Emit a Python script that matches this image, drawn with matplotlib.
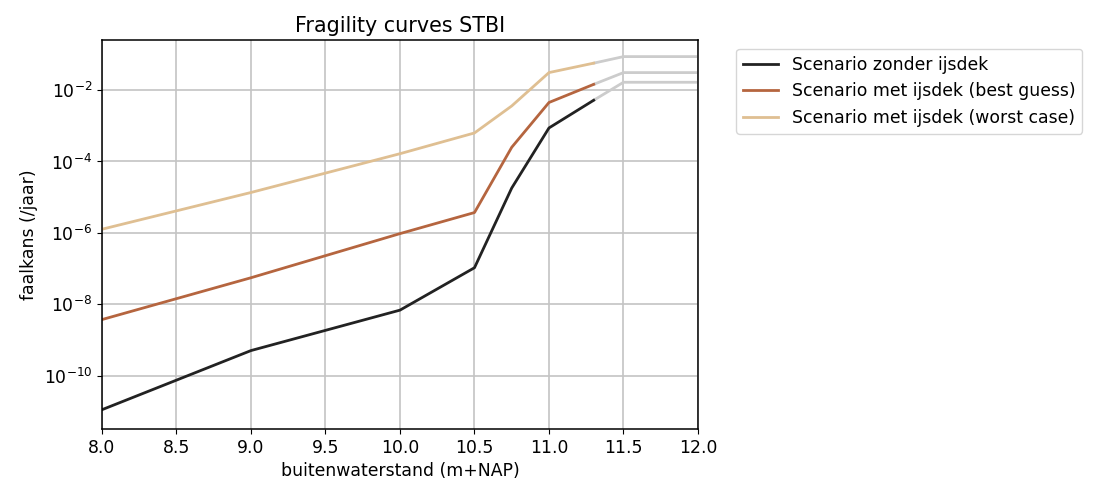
import matplotlib
matplotlib.use("Agg")
import matplotlib.pyplot as plt

# buitenwaterstand (m+NAP)
x = [8.0, 9.0, 10.0, 10.5, 10.75, 11.0, 11.3]
x_tail = [11.3, 11.5, 12.0]

zonder = [1.1e-11, 5.0e-10, 6.8e-9, 1.05e-7, 1.8e-5, 8.7e-4, 5.2e-3]
best = [3.7e-9, 5.5e-8, 9.5e-7, 3.7e-6, 2.5e-4, 4.5e-3, 1.45e-2]
worst = [1.26e-6, 1.35e-5, 1.65e-4, 6.3e-4, 3.6e-3, 3.1e-2, 5.7e-2]

zonder_tail = [5.2e-3, 1.66e-2, 1.66e-2]
best_tail = [1.45e-2, 3.1e-2, 3.1e-2]
worst_tail = [5.7e-2, 8.7e-2, 8.7e-2]

labels = ["Scenario zonder ijsdek",
          "Scenario met ijsdek (best guess)",
          "Scenario met ijsdek (worst case)"]
colors = ["#222222", "#b5653f", "#dfbf92"]

plt.rcParams["font.size"] = 12.4
plt.rcParams["axes.linewidth"] = 1.1

fig = plt.figure(figsize=(10.93, 4.84), dpi=100)
ax = fig.add_axes([0.0933, 0.1136, 0.5453, 0.8034])

for ys, tail, lab, c in zip([zonder, best, worst],
                            [zonder_tail, best_tail, worst_tail],
                            labels, colors):
    ax.plot(x_tail, tail, color="#cccccc", lw=2)
    ax.plot(x, ys, color=c, lw=2, label=lab)

ax.set_yscale("log")
ax.set_xlim(8, 12)
ax.set_ylim(10 ** -11.5, 10 ** -0.6)
ax.set_yticks([1e-10, 1e-8, 1e-6, 1e-4, 1e-2])
ax.minorticks_off()
ax.grid(True, color="#c4c4c4", lw=1.2)
ax.set_axisbelow(True)
ax.set_title("Fragility curves STBI")
ax.set_xlabel("buitenwaterstand (m+NAP)")
ax.set_ylabel("faalkans (/jaar)")
ax.legend(loc="upper left", bbox_to_anchor=(1.05, 1))

fig.savefig("out.png", dpi=100)
